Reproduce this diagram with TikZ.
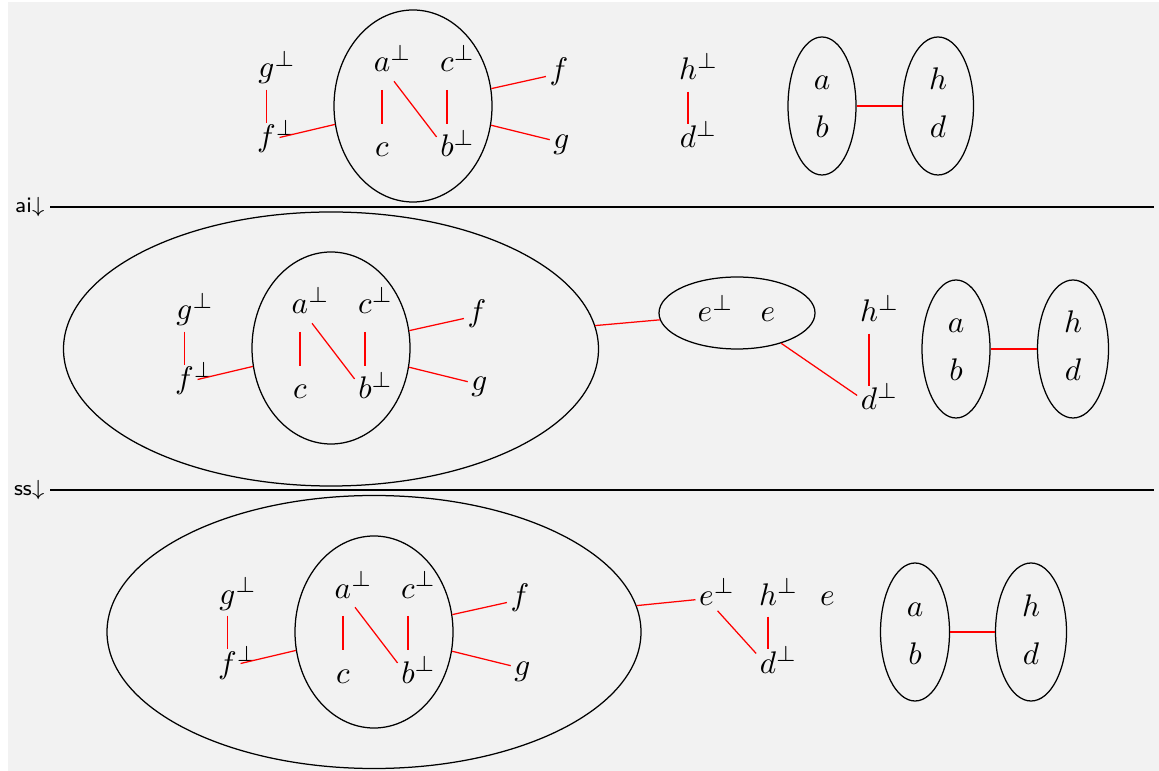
\documentclass[tikz,border=0pt]{standalone}
\usetikzlibrary{shapes.geometric}
\newcommand{\negat}[1]{#1\rlap{$^{\perp}$}}
\tikzset{
  atom/.style={anchor=base, inner sep=1pt, text height=6.6pt, text depth=2.5pt},
  blob/.style 2 args={draw, ellipse, inner sep=0pt, minimum width=#1*0.32pt, minimum height=#2*0.32pt},
  wire/.style={red},
  shortwire/.style={red, shorten <=2pt, shorten >=2.8pt},
  cut/.style={font=\scriptsize\sffamily, anchor=east, inner sep=1.5pt}
}
\begin{document}
\begin{tikzpicture}[x=0.32pt, y=-0.32pt]
  \useasboundingbox (0,0) rectangle (1159,771);
  \fill[gray!10] (8,2) rectangle (1159,771);
  % the same net on the left of every row
  \foreach \r/\dx/\dy in {1/0/0, 2/-82/242, 3/-39/526} {
    \begin{scope}[shift={(\dx,\dy)}]
      \node[blob={158}{192}] (in\r) at (413,106) {};
      \node[atom] (gp\r) at (266.5,78) {$\negat{g}$};
      \node[atom] (fp\r) at (266.5,147) {$\negat{f}$};
      \node[atom] (ap\r) at (382,72) {$\negat{a}$};
      \node[atom] (cp\r) at (447,72) {$\negat{c}$};
      \node[atom] (c\r) at (382,157) {$c$};
      \node[atom] (bp\r) at (447,157) {$\negat{b}$};
      \node[atom] (f\r) at (559,80) {$f$};
      \node[atom] (g\r) at (561.5,149) {$g$};
      \draw[wire] (gp\r) -- (fp\r);
      \draw[shortwire] (ap\r) -- (c\r);
      \draw[shortwire] (cp\r) -- (bp\r);
      \draw[wire] (ap\r) -- (bp\r);
      \draw[wire] (fp\r) -- (in\r);
      \draw[wire] (in\r) -- (f\r);
      \draw[wire] (in\r) -- (g\r);
    \end{scope}
  }
  % row 1
  \node[atom] (hp1) at (688,80) {$\negat{h}$};
  \node[atom] (dp1) at (688,148) {$\negat{d}$};
  \node[blob={68}{138}] (ab1) at (822,106) {};
  \node[blob={71}{138}] (hd1) at (938,106) {};
  \node[atom] (a1) at (822,90) {$a$};
  \node[atom] (b1) at (822,138) {$b$};
  \node[atom] (h1) at (938,90) {$h$};
  \node[atom] (d1) at (938,138) {$d$};
  \draw[wire] (hp1) -- (dp1);
  \draw[wire] (ab1) -- (hd1);
  % ai step
  \node[cut] (ai) at (50,207) {ai$\downarrow$};
  \coordinate (aiend) at (1154,207);
  \draw (ai) -- (aiend);
  % row 2
  \node[blob={535}{274}] (big2) at (331,349) {};
  \node[blob={156}{72}] (ee2) at (737,313) {};
  \node[atom] (ep2) at (705,322) {$\negat{e}$};
  \node[atom] (e2) at (768,322) {$e$};
  \node[atom] (hp2) at (869,322) {$\negat{h}$};
  \node[atom] (dp2) at (869,410) {$\negat{d}$};
  \node[blob={68}{138}] (ab2) at (956,349) {};
  \node[blob={71}{138}] (hd2) at (1073,349) {};
  \node[atom] (a2) at (956,333) {$a$};
  \node[atom] (b2) at (956,381) {$b$};
  \node[atom] (h2) at (1073,333) {$h$};
  \node[atom] (d2) at (1073,381) {$d$};
  \draw[wire] (big2) -- (ee2);
  \draw[wire] (ee2) -- (dp2);
  \draw[wire] (hp2) -- (dp2);
  \draw[wire] (ab2) -- (hd2);
  % ss step
  \node[cut] (ss) at (50,490) {ss$\downarrow$};
  \coordinate (ssend) at (1154,490);
  \draw (ss) -- (ssend);
  % row 3
  \node[blob={534}{273}] (big3) at (374,632) {};
  \node[atom] (ep3) at (706.5,605) {$\negat{e}$};
  \node[atom] (hp3) at (768,605) {$\negat{h}$};
  \node[atom] (e3) at (827.5,605) {$e$};
  \node[atom] (dp3) at (768,673) {$\negat{d}$};
  \node[blob={69}{138}] (ab3) at (915,632) {};
  \node[blob={71}{138}] (hd3) at (1031,632) {};
  \node[atom] (a3) at (915,616) {$a$};
  \node[atom] (b3) at (915,664) {$b$};
  \node[atom] (h3) at (1031,616) {$h$};
  \node[atom] (d3) at (1031,664) {$d$};
  \draw[wire] (big3) -- (ep3);
  \draw[wire] (ep3) -- (dp3);
  \draw[wire] (hp3) -- (dp3);
  \draw[wire] (ab3) -- (hd3);
\end{tikzpicture}
\end{document}
